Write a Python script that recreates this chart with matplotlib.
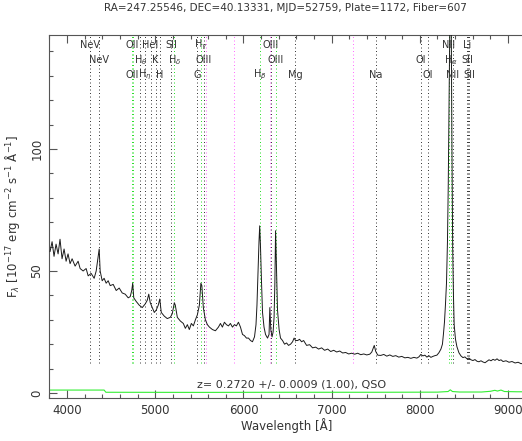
import matplotlib
matplotlib.use("Agg")
import matplotlib.pyplot as plt
from matplotlib import font_manager
from matplotlib.ticker import MultipleLocator
import matplotlib.transforms as mtransforms

# ---------------- data ----------------
title = "RA=247.25546, DEC=40.13331, MJD=52759, Plate=1172, Fiber=607"
redshift = 0.2720
ztext = "z= 0.2720 +/- 0.0009 (1.00), QSO"

wave = [3807, 3830, 3852, 3875, 3898, 3920, 3943, 3966, 3989, 4011, 4034, 4057,
        4091, 4125, 4148, 4182, 4216, 4239, 4273, 4307, 4330, 4352, 4364, 4375,
        4398, 4420, 4443, 4466, 4489, 4523, 4557, 4591, 4625, 4659, 4693, 4716,
        4733, 4744, 4756, 4784, 4818, 4852, 4886, 4909, 4926, 4943, 4966, 4989,
        5011, 5034, 5051, 5068, 5102, 5136, 5170, 5193, 5216, 5227, 5250, 5284,
        5318, 5341, 5364, 5386, 5409, 5432, 5455, 5477, 5500, 5517, 5528, 5545,
        5568, 5591, 5614, 5648, 5682, 5716, 5739, 5761, 5784, 5807, 5830, 5852,
        5875, 5898, 5920, 5943, 5966, 5989, 6011, 6034, 6057, 6080, 6102, 6125,
        6142, 6153, 6165, 6176, 6184, 6193, 6205, 6216, 6233, 6250, 6273, 6290,
        6299, 6310, 6324, 6336, 6347, 6356, 6364, 6375, 6386, 6404, 6420, 6443,
        6466, 6489, 6511, 6534, 6557, 6574, 6591, 6614, 6636, 6659, 6682, 6716,
        6750, 6784, 6818, 6852, 6886, 6920, 6955, 6989, 7023, 7057, 7091, 7125,
        7159, 7193, 7227, 7261, 7295, 7330, 7364, 7398, 7432, 7455, 7472, 7483,
        7500, 7523, 7557, 7591, 7625, 7659, 7693, 7727, 7761, 7795, 7830, 7864,
        7898, 7932, 7966, 7989, 8011, 8034, 8057, 8080, 8102, 8125, 8148, 8170,
        8193, 8216, 8239, 8256, 8267, 8279, 8290, 8302, 8313, 8322, 8330, 8339,
        8347, 8356, 8364, 8372, 8381, 8389, 8404, 8420, 8443, 8466, 8489, 8511,
        8534, 8557, 8580, 8602, 8625, 8648, 8670, 8693, 8716, 8739, 8761, 8784,
        8807, 8830, 8852, 8875, 8898, 8920, 8943, 8977, 9011, 9045, 9080, 9114,
        9148, 9170]
flux = [58, 62, 56, 61, 57, 63, 55, 59, 54, 57, 53, 55,
        52, 54, 51, 50, 51, 48, 49, 47, 50, 56, 59, 50,
        46, 47, 45, 46, 44, 44.5, 42, 43, 41, 40.5, 39, 39.5,
        42, 45, 39, 37.5, 36, 35, 36.5, 38, 40.5, 37, 35, 33,
        34, 36, 38.5, 33, 31.5, 30.5, 31, 32.5, 37, 36, 31, 29.5,
        28.5, 26.5, 28, 26, 28.5, 27.5, 30, 32, 36, 45, 44, 35,
        30, 28, 27, 26, 25.5, 27, 28.5, 27, 29, 28, 27.5, 28.5,
        27, 28, 27.5, 29, 27, 24, 23.5, 22.5, 22.5, 21.5, 21, 23,
        28, 36, 50, 62, 68.5, 60, 45, 33, 27, 24, 22.5, 24,
        35, 26, 23, 25, 31, 45, 66.5, 50, 34, 26, 22.5, 21.5,
        20, 20.5, 19.5, 20, 21, 22.5, 21.5, 21.5, 22, 21, 21.5, 19.5,
        19.8, 18.5, 18.8, 18, 18.5, 17.5, 18, 17, 17.5, 16.8, 17.2, 16.4,
        16.6, 16, 16.3, 15.9, 16.3, 15.7, 16, 15.6, 15.9, 16.8, 18.5, 19.5,
        17, 15.5, 15.4, 15.8, 15.1, 15.6, 15, 15.3, 14.7, 15, 14.4, 14.6,
        14.2, 14.6, 14.3, 14.8, 15.8, 15.2, 15.5, 14.7, 15.3, 14.6, 15, 15.3,
        15.5, 16.5, 18, 20, 24, 29, 36, 45, 62, 85, 115, 150,
        175, 150, 100, 60, 40, 28, 22, 19, 16.5, 15.2, 14.5, 14.8,
        14.0, 14.3, 13.6, 13.3, 13.7, 13, 12.8, 13.2, 12.7, 12.4, 13.0, 13.6,
        13.2, 13.8, 13.4, 14.0, 13.3, 13.6, 12.9, 13.2, 12.6, 12.9, 12.3, 12.6,
        12.0, 12.2]

err_wave = [3800, 4420, 4440, 5500, 6500, 7500, 8200, 8320, 8345, 8370, 8450,
            8700, 8800, 8850, 8880, 8920, 8960, 9100, 9170]
err_flux = [1.2, 1.2, 0.3, 0.25, 0.3, 0.3, 0.35, 0.6, 1.3, 0.6, 0.4,
            0.4, 0.7, 1.1, 0.8, 1.2, 0.6, 0.5, 0.5]

# line list: label, rest wavelength, label row, colour key
line_names = ["NeV", "NeV", "OII", "OII", r"H$_\theta$", r"H$_\eta$", "HeI", "K", "H",
              "SII", r"H$_\delta$", "G", r"H$_\gamma$", "OIII", r"H$_\beta$", "OIII",
              "OIII", "Mg", "Na", "OI", "OI", "NII", r"H$_\alpha$", "NII", "Li",
              "SII", "SII"]
line_rest = [3346, 3426, 3726, 3729, 3798, 3835, 3889, 3934, 3969,
             4072, 4102, 4305, 4341, 4363, 4861, 4959,
             5007, 5177, 5896, 6300, 6363, 6548, 6563, 6583, 6707,
             6716, 6731]
line_row = [0, 1, 0, 2, 1, 2, 0, 1, 2,
            0, 1, 2, 0, 1, 2, 0,
            1, 2, 2, 1, 2, 0, 1, 2, 0,
            1, 2]
line_kind = ["k", "k", "g", "g", "k", "k", "k", "k", "k",
             "k", "g", "k", "g", "k", "g", "k",
             "g", "k", "k", "k", "k", "g", "g", "k", "k",
             "k", "k"]
sky_lines = [5577, 5892, 6300, 7240]

# ---------------- style ----------------
names = {f.name for f in font_manager.fontManager.ttflist}
label_font = "Liberation Sans Narrow" if "Liberation Sans Narrow" in names else "DejaVu Sans"
plt.rcParams['font.family'] = ['DejaVu Sans']
plt.rcParams['mathtext.fontset'] = 'dejavusans'
txt = '#333333'
axcol = '#555555'
colmap = {"k": "#333333", "g": "#22dd22"}
dots = (0, (1, 2.6))

fig = plt.figure(figsize=(5.22, 4.41), dpi=100)
ax = fig.add_axes([49/522, 43/441, 1 - 49/522 + 0.002, (398-35)/441])

ax.plot(wave, flux, color='#1a1a1a', lw=0.7, zorder=3)
ax.plot(err_wave, err_flux, color='#33ee33', lw=0.8, zorder=2)

trans = mtransforms.blended_transform_factory(ax.transData, ax.transAxes)
row_y = [0.972, 0.931, 0.890]
lo = (12.3 + 2.05) / (146.7 + 2.05)
for name, rest, row, kind in zip(line_names, line_rest, line_row, line_kind):
    lam = rest * (1 + redshift)
    ax.plot([lam, lam], [lo, 1.0], transform=trans, color=colmap[kind],
            lw=0.7, ls=dots, zorder=1)
    ax.text(lam, row_y[row], name, transform=trans, ha='center', va='center',
            fontsize=7, color=txt, family=label_font)
for s in sky_lines:
    ax.plot([s, s], [lo, 1.0], transform=trans, color='#ff66ff',
            lw=0.7, ls=dots, zorder=1)

ax.text(6540, 3.6, ztext, ha='center', va='center', fontsize=8, color=txt)

ax.set_xlim(3795, 9170)
ax.set_ylim(-2.05, 146.7)
ax.xaxis.set_major_locator(MultipleLocator(1000))
ax.xaxis.set_minor_locator(MultipleLocator(200))
ax.yaxis.set_major_locator(MultipleLocator(50))
ax.yaxis.set_minor_locator(MultipleLocator(10))
ax.tick_params(which='both', direction='in', top=True, right=False,
               colors=axcol, labelcolor=txt, labelsize=8.5)
ax.tick_params(which='major', length=6, width=0.8)
ax.tick_params(which='minor', length=3, width=0.8)
ax.tick_params(axis='x', pad=4)
ax.tick_params(axis='y', labelrotation=90, pad=4)
for lab in ax.get_yticklabels():
    lab.set_va('center')
for sp in ['left', 'bottom', 'top']:
    ax.spines[sp].set_color(axcol)
    ax.spines[sp].set_linewidth(0.8)
ax.spines['right'].set_visible(False)

fig.text(287/522, 1 - 426/441, "Wavelength [Å]", ha='center', va='center',
         fontsize=8.5, color=txt)
ax.set_ylabel(r"F$_\lambda$ [10$^{-17}$ erg cm$^{-2}$ s$^{-1}$ Å$^{-1}$]",
              fontsize=8.5, color=txt, labelpad=6)
fig.text(285/522, 1 - 8/441, title, ha='center', va='center', fontsize=7.5, color=txt)

fig.savefig("out.png", dpi=100)
